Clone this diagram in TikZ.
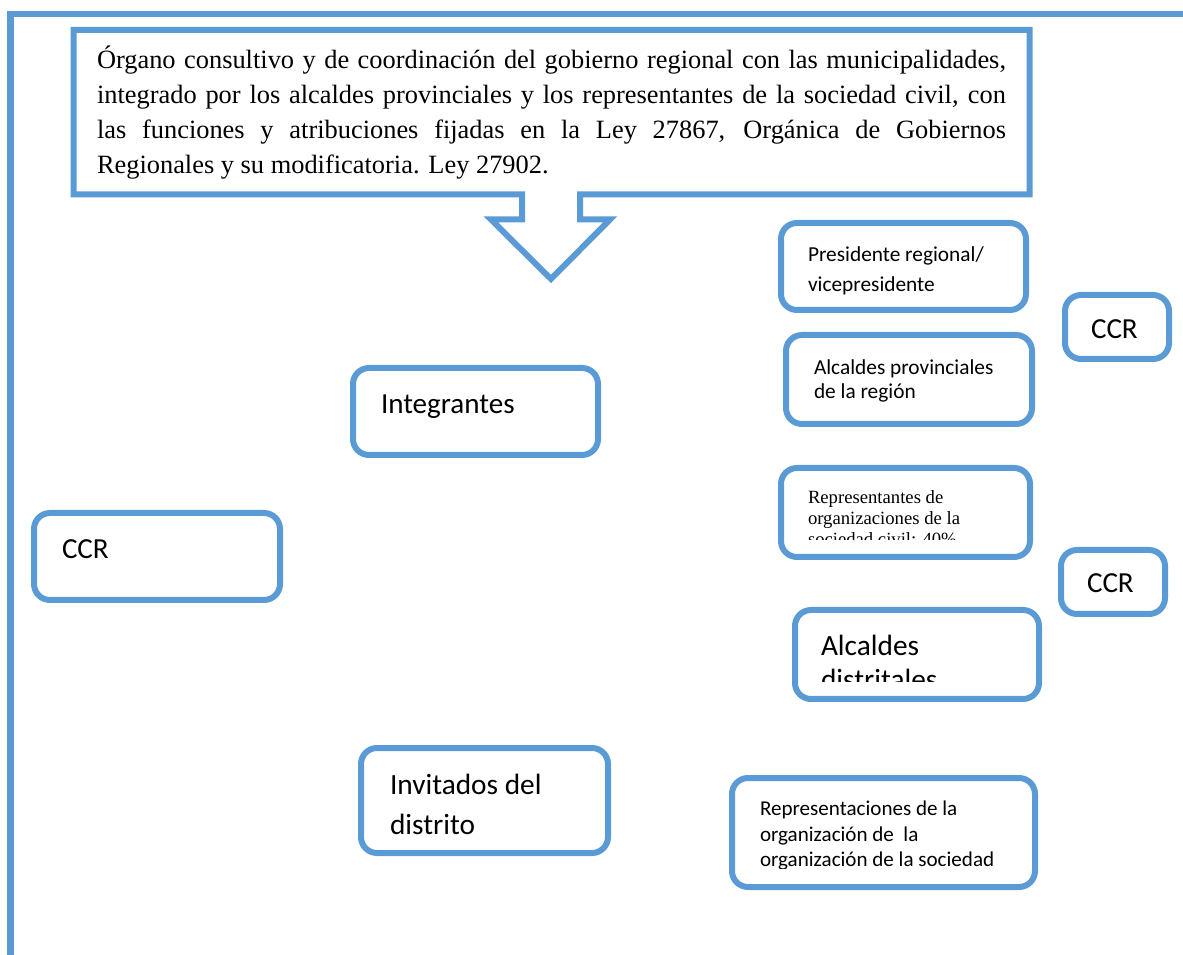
\documentclass[tikz,border=0pt]{standalone}
\usepackage{fontspec}
\setmainfont{Liberation Serif}
\newfontfamily\calfont{Carlito}
\definecolor{ob}{HTML}{5B9BD5}
\tikzset{
  box/.style={draw=ob, line width=4.5pt, rounded corners=12pt, rectangle, inner sep=0pt},
  txt/.style={anchor=base west, inner sep=0pt, outer sep=0pt},
  bigsans/.style={txt, font=\calfont\fontsize{21.8pt}{26pt}\selectfont},
  frameline/.style={draw=ob, line width=5pt},
  callout/.style={draw=ob, line width=4.5pt, line join=miter}
}
\begin{document}
\begin{tikzpicture}[x=0.75pt,y=-0.75pt]
\useasboundingbox (0,0) rectangle (1183,955);
% outer frame
\draw[frameline] (10.5,955) -- (10.5,14) -- (1183,14);
% callout with down arrow
\draw[callout] (73.5,30) -- (1029.5,30) -- (1029.5,194.5) -- (580,194.5) -- (580,219.5) -- (610,219.5) -- (551,279) -- (491,219.5) -- (522,219.5) -- (522,194.5) -- (73.5,194.5) -- cycle;
\node[txt, font=\fontsize{19.8pt}{26.25pt}\selectfont] (desc) at (97,68.3)
  {\parbox[t]{681.75pt}{\hyphenpenalty=10000 Órgano consultivo y de coordinación del gobierno regional con las municipalidades,\linebreak
  integrado por los alcaldes provinciales y los representantes de la sociedad civil, con\linebreak
  las funciones y atribuciones fijadas en la Ley 27867, Orgánica de Gobiernos\linebreak
  Regionales y su modificatoria. Ley 27902.}};
% boxes
\node[box, minimum width=183.75pt, minimum height=65.25pt] (pres) at (903.5,266.5) {};
\node[box, minimum width=184.5pt, minimum height=66.75pt] (alcprov) at (909,379.5) {};
\node[box, minimum width=78pt, minimum height=48pt] (ccrA) at (1117,327) {};
\node[box, minimum width=186.75pt, minimum height=66.75pt] (rep) at (905.5,512.5) {};
\node[box, minimum width=78pt, minimum height=48pt] (ccrB) at (1113,582) {};
\node[box, minimum width=183pt, minimum height=66.75pt] (alcdist) at (917,654.5) {};
\node[box, minimum width=227.25pt, minimum height=81.75pt] (repc) at (883.5,832.5) {};
\node[box, minimum width=183.75pt, minimum height=65.25pt] (integ) at (475.5,411.5) {};
\node[box, minimum width=184.5pt, minimum height=65.25pt] (ccrL) at (157,556.5) {};
\node[box, minimum width=185.25pt, minimum height=78.75pt] (invit) at (484.5,800.5) {};
% texts
\node[txt, font=\calfont\fontsize{16pt}{22.5pt}\selectfont] (presT) at (808,262)
  {\parbox[t]{250pt}{Presidente regional/\\vicepresidente}};
\node[txt, font=\calfont\fontsize{16pt}{18pt}\selectfont] (alcprovT) at (814,375)
  {\parbox[t]{250pt}{Alcaldes provinciales\\de la región}};
\node[bigsans] (ccrAT) at (1091,339) {CCR};
\node[bigsans] (ccrBT) at (1087,593) {CCR};
\node[bigsans] (ccrLT) at (62,559) {CCR};
\node[bigsans] (integT) at (381,414) {Integrantes};
\node[txt, font=\calfont\fontsize{22pt}{30pt}\selectfont] (invitT) at (390,794)
  {\parbox[t]{250pt}{Invitados del\\distrito}};
\begin{scope}
  \clip (781,468) rectangle (1030,540);
  \node[txt, font=\fontsize{14pt}{15.75pt}\selectfont] (repT) at (808,504)
    {\parbox[t]{250pt}{Representantes de\\organizaciones de la\\sociedad civil: 40\%}};
\end{scope}
\begin{scope}
  \clip (795,610) rectangle (1039,682);
  \node[txt, font=\calfont\fontsize{22pt}{25.5pt}\selectfont] (alcdistT) at (821,656)
    {\parbox[t]{250pt}{Alcaldes\\distritales}};
\end{scope}
\begin{scope}
  \clip (732,778) rectangle (1035,868.3);
  \node[txt, font=\calfont\fontsize{15.8pt}{19.5pt}\selectfont] (repcT) at (760,815)
    {\parbox[t]{300pt}{Representaciones de la\\organización de\ \ la\\organización de la sociedad}};
\end{scope}
\end{tikzpicture}
\end{document}
